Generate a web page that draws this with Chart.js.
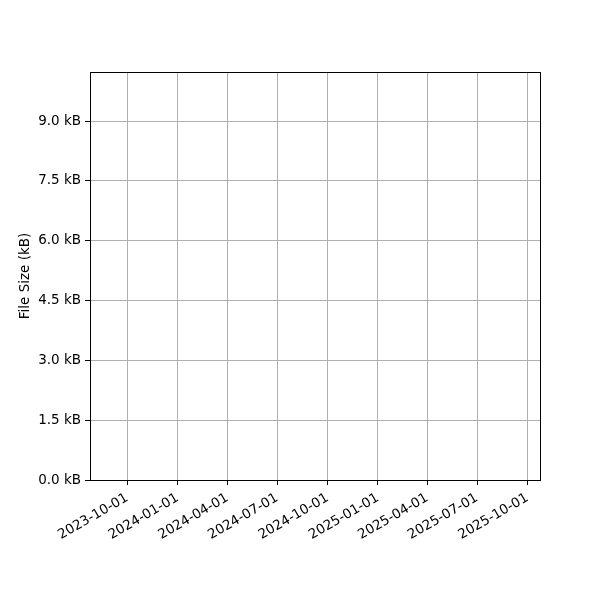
<!DOCTYPE html>
<html>
<head>
<meta charset="utf-8">
<script src="https://cdn.jsdelivr.net/npm/chart.js@4/dist/chart.umd.min.js"></script>
<style>
	body { margin: 0; background: #fff; }
	#wrap { width: 600px; height: 600px; }
</style>
</head>
<body>
<div id="wrap"><canvas id="myChart" width="600" height="600"></canvas></div>
<script>
	/* chart data (the reference plots no points) */
	var dates = [];
	var fileSizes = [];

	/* axis ticks and ranges */
	var xTickLabels = ['2023-10-01', '2024-01-01', '2024-04-01', '2024-07-01', '2024-10-01',
		'2025-01-01', '2025-04-01', '2025-07-01', '2025-10-01'];
	var xRange = ['2023-07-25', '2025-10-24'];
	var yTickValues = [0, 1.5, 3.0, 4.5, 6.0, 7.5, 9.0];
	var yRange = [0, 10.23];

	var dayMs = function(s) { return new Date(s + 'T00:00:00Z').getTime(); };
	var fmtDate = function(v) { return new Date(v).toISOString().slice(0, 10); };

	var font = { family: 'DejaVu Sans', size: 13.5 };

	/* black frame round the plot area */
	var frame = {
		id: 'frame',
		afterDraw: function(chart) {
			var a = chart.chartArea, c = chart.ctx;
			c.save();
			c.strokeStyle = '#000';
			c.lineWidth = 1;
			c.strokeRect(Math.round(a.left) + 0.5, Math.round(a.top) + 0.5,
				Math.round(a.right - a.left), Math.round(a.bottom - a.top));
			c.restore();
		}
	};

	var ctx = document.getElementById('myChart').getContext('2d');
	var myChart = new Chart(ctx, {
		type: 'line',
		data: {
			datasets: [{
				label: 'File Size',
				data: dates.map(function(d, i) { return { x: dayMs(d), y: fileSizes[i] }; }),
				borderColor: '#1f77b4',
				pointRadius: 0
			}]
		},
		options: {
			responsive: false,
			animation: false,
			devicePixelRatio: 1,
			layout: { padding: { left: 0, right: 60, top: 72, bottom: 0 } },
			plugins: { legend: { display: false }, tooltip: { enabled: false } },
			scales: {
				x: {
					type: 'linear',
					min: dayMs(xRange[0]),
					max: dayMs(xRange[1]),
					afterBuildTicks: function(axis) {
						axis.ticks = xTickLabels.map(function(s) { return { value: dayMs(s) }; });
					},
					afterFit: function(axis) { axis.height = 120; },
					ticks: {
						callback: function(v) { return fmtDate(v); },
						autoSkip: false,
						minRotation: 30,
						maxRotation: 30,
						padding: 5,
						color: '#000',
						font: font
					},
					grid: { color: '#b0b0b0', lineWidth: 1, tickColor: '#000', tickLength: 5 },
					border: { color: '#000', width: 1 }
				},
				y: {
					type: 'linear',
					min: yRange[0],
					max: yRange[1],
					afterBuildTicks: function(axis) {
						axis.ticks = yTickValues.map(function(v) { return { value: v }; });
					},
					afterFit: function(axis) { axis.width = 90; },
					ticks: {
						callback: function(v) { return v.toFixed(1) + ' kB'; },
						padding: 4,
						color: '#000',
						font: font
					},
					title: {
						display: true,
						text: 'File Size (kB)',
						color: '#000',
						font: font,
						padding: { top: 17, bottom: 0 }
					},
					grid: { color: '#b0b0b0', lineWidth: 1, tickColor: '#000', tickLength: 5 },
					border: { color: '#000', width: 1 }
				}
			}
		},
		plugins: [frame]
	});
</script>
</body>
</html>
